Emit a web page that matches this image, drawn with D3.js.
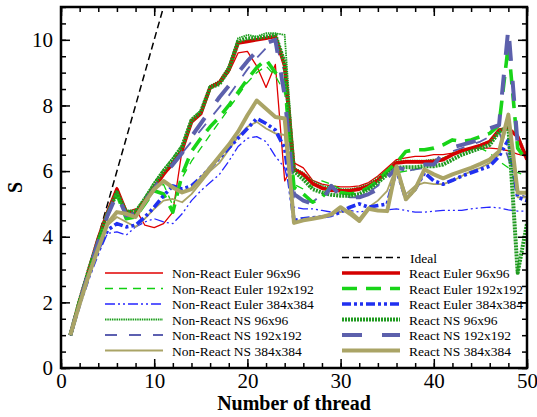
<!DOCTYPE html>
<html lang="en">
<head>
<meta charset="UTF-8">
<title>Speedup</title>
<style>
  body { margin: 0; background: #fff; }
  svg { display: block; }
  svg text { font-family: "Liberation Serif", "Times New Roman", "DejaVu Serif", serif; fill: #000; }
</style>
</head>
<body>
<div id="graphic"></div>
<script src="https://cdn.jsdelivr.net/npm/d3@7"></script>
<script>
var width = 537;
var height = 417;
var serif = '"Liberation Serif", "Times New Roman", "DejaVu Serif", serif';

var threads = [1,2,3,4,5,6,7,8,9,10,11,12,13,14,15,16,17,18,19,20,21,22,23,24,25,
               26,27,28,29,30,31,32,33,34,35,36,37,38,39,40,41,42,43,44,45,46,47,48,49,50];

var nonReactEuler96 = [1,2.05,3.05,4.0,4.8,5.5,4.75,4.85,4.35,4.28,4.4,4.75,6.65,7.55,7.8,8.5,8.65,9.0,9.6,9.65,9.2,8.55,9.25,5.7,6.25,
                       6.1,5.72,5.6,5.55,5.52,5.52,5.55,5.65,5.85,6.1,6.35,6.4,6.45,6.45,6.5,6.5,6.55,6.62,6.68,6.7,6.7,6.68,6.62,6.52,6.45];
var nonReactEuler192 = [1,2.0,2.95,3.85,4.65,5.3,4.6,4.65,5.05,5.45,5.6,4.95,5.8,6.3,6.7,7.1,7.5,7.9,8.3,8.7,9.0,9.2,8.9,8.4,5.6,
                        5.45,5.55,5.7,5.6,5.45,5.4,5.45,5.55,5.7,5.9,5.95,6.0,6.05,6.15,6.25,6.4,6.55,6.6,6.65,6.7,6.55,6.3,6.1,5.95,5.85];
var nonReactEuler384 = [1,1.95,2.8,3.55,4.1,4.15,4.05,4.3,4.45,4.55,4.45,4.4,4.7,5.1,5.4,5.65,5.9,6.3,6.75,7.0,7.05,6.9,6.45,6.1,4.9,
                        4.85,4.85,4.8,4.75,4.78,4.8,4.75,4.8,4.8,4.82,4.85,4.8,4.75,4.75,4.78,4.8,4.8,4.8,4.85,4.88,4.9,4.88,4.82,4.78,4.78];
var nonReactNS96 = [1,2.05,3.0,3.95,4.75,5.4,4.8,4.8,5.2,5.65,6.05,6.4,6.8,7.6,7.85,8.6,8.75,9.2,10.05,10.15,10.1,10.2,10.2,10.15,6.1,
                    5.95,5.7,5.55,5.5,5.45,5.45,5.5,5.6,5.8,6.05,6.3,6.32,6.32,6.32,6.35,6.38,6.5,6.62,6.7,6.8,6.92,7.2,7.3,7.1,6.45];
var nonReactNS192 = [1,2.0,2.95,3.85,4.65,5.3,4.6,4.6,5.0,5.5,5.85,6.2,6.55,6.9,7.25,7.6,7.95,8.3,8.7,9.1,9.45,9.75,9.9,9.0,5.2,
                     5.1,5.05,5.3,5.45,5.25,5.2,5.2,5.35,5.55,5.9,6.0,6.0,6.05,6.1,6.2,6.4,6.6,6.7,6.8,6.9,7.05,7.2,6.4,5.3,5.2];
var nonReactNS384 = [1,1.95,2.85,3.65,4.35,4.6,4.45,4.3,4.55,4.85,5.1,5.15,5.05,5.3,5.65,6.0,6.25,6.65,7.05,7.35,7.5,7.3,7.15,7.1,4.45,
                     4.5,4.55,4.6,4.7,4.75,4.8,4.55,4.9,5.1,5.4,6.15,5.3,5.55,5.65,5.6,5.6,5.7,5.85,6.0,6.1,6.25,6.5,7.55,5.2,5.2];

var reactEuler96 = [1,2.05,3.0,3.95,4.75,5.45,4.75,4.7,5.1,5.5,5.9,6.25,6.65,7.5,7.75,8.55,8.7,9.1,9.9,9.95,10.0,10.05,10.1,9.2,6.05,
                    5.9,5.62,5.48,5.42,5.4,5.4,5.45,5.55,5.72,6.0,6.25,6.28,6.28,6.28,6.3,6.35,6.5,6.62,6.7,6.78,6.9,7.25,7.3,7.05,6.35];
var reactEuler192 = [1,2.0,2.95,3.85,4.7,5.3,4.55,4.6,5.0,5.4,5.3,4.75,5.9,6.6,7.0,7.35,7.65,8.0,8.4,8.8,9.15,9.4,9.0,8.7,5.5,
                     5.3,5.05,5.2,5.55,5.35,5.3,5.35,5.5,5.7,6.0,6.25,6.6,6.65,6.65,6.7,6.8,6.95,6.9,6.95,7.05,7.15,7.4,9.85,6.7,6.3];
var reactEuler384 = [1,1.95,2.8,3.55,4.2,4.4,4.3,4.35,4.6,4.9,5.25,5.55,5.45,5.55,5.8,6.1,6.4,6.7,7.0,7.3,7.6,7.45,7.25,6.7,4.5,
                     4.55,4.58,4.6,4.65,4.75,4.9,5.0,4.9,4.95,5.0,6.05,5.15,5.45,5.95,5.7,5.6,5.72,5.85,5.95,6.05,6.15,6.45,6.95,5.2,5.1];
var reactNS96 = [1,2.05,3.0,3.9,4.7,5.35,4.75,4.75,5.15,5.6,6.0,6.35,6.75,7.55,7.8,8.55,8.65,9.1,9.95,10.05,10.05,10.1,10.15,9.3,6.0,
                 5.75,5.45,5.35,5.28,5.25,5.25,5.3,5.45,5.65,5.9,6.1,6.12,6.12,6.15,6.15,6.2,6.35,6.5,6.6,6.7,6.8,7.2,7.35,2.9,4.4];
var reactNS192 = [1,2.0,2.95,3.85,4.65,5.3,4.65,4.7,5.1,5.45,5.9,6.2,6.55,7.05,7.45,7.85,8.25,8.6,9.0,9.35,9.65,9.9,10.0,8.3,5.3,
                  5.1,5.0,5.1,5.55,5.25,5.2,5.2,5.3,5.45,5.8,6.1,6.05,6.1,6.2,6.2,6.55,6.72,6.8,6.88,6.96,7.3,7.4,10.36,6.8,6.45];
var reactNS384 = [1,1.95,2.85,3.65,4.4,4.75,4.7,4.6,5.05,5.45,5.7,5.5,5.35,5.45,5.75,6.1,6.45,6.8,7.2,7.7,8.15,7.9,7.65,7.6,4.42,
                  4.5,4.55,4.6,4.68,4.9,4.7,4.48,4.85,4.8,4.78,6.15,5.14,5.45,6.05,5.9,5.78,5.9,6.0,6.1,6.22,6.35,6.6,7.72,5.34,5.34];

var idealThreads = [1, 50];
var idealS = [1, 50];

var xTicks = [0, 10, 20, 30, 40, 50];
var yTicks = [0, 2, 4, 6, 8, 10];

var margin = {left: 61, right: 10, top: 7, bottom: 49};

var x = d3.scaleLinear().domain([0, 50]).range([margin.left, width - margin.right]);
var y = d3.scaleLinear().domain([0, 11]).range([height - margin.bottom, margin.top]);

var svg = d3.select('#graphic')
    .append('svg')
    .attr('width', width)
    .attr('height', height)
    .attr('font-family', serif);

svg.append('defs').append('clipPath')
    .attr('id', 'plot')
    .append('rect')
    .attr('x', x(0)).attr('y', y(11))
    .attr('width', x(50) - x(0)).attr('height', y(0) - y(11));

// series styles: colour, width, dash
var series = [
    {name: 'Non-React Euler 96x96',   v: nonReactEuler96,  c: '#e00000', w: 1.3, d: null,               col: 0},
    {name: 'Non-React Euler 192x192', v: nonReactEuler192, c: '#10d010', w: 1.3, d: '8,6',              col: 0},
    {name: 'Non-React Euler 384x384', v: nonReactEuler384, c: '#2525ff', w: 1.3, d: '10,3,2,3,2,3',     col: 0},
    {name: 'Non-React NS 96x96',      v: nonReactNS96,     c: '#1c9e1c', w: 1.8, d: '1.5,0.8',          col: 0},
    {name: 'Non-React NS 192x192',    v: nonReactNS192,    c: '#5c60b0', w: 1.8, d: '12,12',            col: 0},
    {name: 'Non-React NS 384x384',    v: nonReactNS384,    c: '#aaa466', w: 1.8, d: null,               col: 0},
    {name: 'React Euler 96x96',       v: reactEuler96,     c: '#d40000', w: 3.6, d: null,               col: 1},
    {name: 'React Euler 192x192',     v: reactEuler192,    c: '#18d418', w: 3.6, d: '15,9',             col: 1},
    {name: 'React Euler 384x384',     v: reactEuler384,    c: '#2030f0', w: 3.6, d: '9,3,3,3,3,3',      col: 1},
    {name: 'React NS 96x96',          v: reactNS96,        c: '#1f9a1f', w: 4,   d: '2,1',              col: 1},
    {name: 'React NS 192x192',        v: reactNS192,       c: '#5c60ac', w: 4,   d: '20,20',            col: 1},
    {name: 'React NS 384x384',        v: reactNS384,       c: '#aaa466', w: 4,   d: null,               col: 1}
];

var line = d3.line()
    .x(function(d) { return x(d[0]); })
    .y(function(d) { return y(d[1]); });

var plot = svg.append('g').attr('clip-path', 'url(#plot)');

plot.append('path')
    .datum(d3.zip(idealThreads, idealS))
    .attr('d', line)
    .attr('fill', 'none')
    .attr('stroke', '#000')
    .attr('stroke-width', 1.5)
    .attr('stroke-dasharray', '7,4');

plot.selectAll('.series')
    .data(series)
    .join('path')
    .attr('class', 'series')
    .attr('d', function(s) { return line(d3.zip(threads, s.v)); })
    .attr('fill', 'none')
    .attr('stroke', function(s) { return s.c; })
    .attr('stroke-width', function(s) { return s.w; })
    .attr('stroke-dasharray', function(s) { return s.d; })
    .attr('stroke-linejoin', 'round');

// axes, ticks inward on all four sides
var xMinor = d3.range(0, 51, 2);
var yMinor = d3.range(0, 11.01, 0.5);

function clean(g) {
    g.select('.domain').remove();
    g.attr('font-family', null).attr('font-size', null);
}

svg.append('g')
    .attr('transform', 'translate(0,' + y(0) + ')')
    .call(d3.axisBottom(x).tickValues(xTicks).tickSize(-9).tickPadding(5).tickFormat(d3.format('d')))
    .call(clean);
svg.append('g')
    .attr('transform', 'translate(0,' + y(0) + ')')
    .call(d3.axisBottom(x).tickValues(xMinor).tickSize(-5).tickFormat(''))
    .call(clean);
svg.append('g')
    .attr('transform', 'translate(0,' + y(11) + ')')
    .call(d3.axisTop(x).tickValues(xTicks).tickSize(-9).tickFormat(''))
    .call(clean);
svg.append('g')
    .attr('transform', 'translate(0,' + y(11) + ')')
    .call(d3.axisTop(x).tickValues(xMinor).tickSize(-5).tickFormat(''))
    .call(clean);

svg.append('g')
    .attr('transform', 'translate(' + x(0) + ',0)')
    .call(d3.axisLeft(y).tickValues(yTicks).tickSize(-9).tickPadding(8))
    .call(clean);
svg.append('g')
    .attr('transform', 'translate(' + x(0) + ',0)')
    .call(d3.axisLeft(y).tickValues(yMinor).tickSize(-5).tickFormat(''))
    .call(clean);
svg.append('g')
    .attr('transform', 'translate(' + x(50) + ',0)')
    .call(d3.axisRight(y).tickValues(yTicks).tickSize(-9).tickFormat(''))
    .call(clean);
svg.append('g')
    .attr('transform', 'translate(' + x(50) + ',0)')
    .call(d3.axisRight(y).tickValues(yMinor).tickSize(-5).tickFormat(''))
    .call(clean);

svg.selectAll('.tick line').attr('stroke', '#000').attr('stroke-width', 1.5);
svg.selectAll('.tick text')
    .attr('fill', '#000')
    .attr('font-family', serif)
    .attr('font-size', 21);

svg.append('rect')
    .attr('x', x(0)).attr('y', y(11))
    .attr('width', x(50) - x(0)).attr('height', y(0) - y(11))
    .attr('fill', 'none')
    .attr('stroke', '#000')
    .attr('stroke-width', 2.5);

svg.append('text')
    .attr('x', (x(0) + x(50)) / 2)
    .attr('y', 410)
    .attr('text-anchor', 'middle')
    .attr('font-family', serif)
    .attr('font-size', 20)
    .attr('font-weight', 'bold')
    .text('Number of thread');

svg.append('text')
    .attr('transform', 'translate(22,' + y(5.5) + ') rotate(-90)')
    .attr('text-anchor', 'middle')
    .attr('font-family', serif)
    .attr('font-size', 20)
    .attr('font-weight', 'bold')
    .text('S');

// legend
var legendRows = [273, 288.5, 304, 319.5, 335, 350.5];
var legendCols = [105, 342];

var idealRow = svg.append('g');
idealRow.append('line')
    .attr('x1', legendCols[1]).attr('x2', legendCols[1] + 58)
    .attr('y1', 257.5).attr('y2', 257.5)
    .attr('stroke', '#000').attr('stroke-width', 1.5).attr('stroke-dasharray', '7,4');
idealRow.append('text')
    .attr('x', legendCols[1] + 68).attr('y', 262.5)
    .attr('font-family', serif)
    .attr('font-size', 13.5)
    .text('Ideal');

var items = svg.selectAll('.legend')
    .data(series)
    .join('g')
    .attr('class', 'legend')
    .attr('transform', function(s, i) {
        return 'translate(' + legendCols[s.col] + ',' + legendRows[i % 6] + ')';
    });

items.append('line')
    .attr('x1', 0).attr('x2', 58)
    .attr('stroke', function(s) { return s.c; })
    .attr('stroke-width', function(s) { return s.w; })
    .attr('stroke-dasharray', function(s) { return s.d; });

items.append('text')
    .attr('x', 67).attr('y', 5)
    .attr('font-family', serif)
    .attr('font-size', 13.5)
    .text(function(s) { return s.name; });
</script>
</body>
</html>
